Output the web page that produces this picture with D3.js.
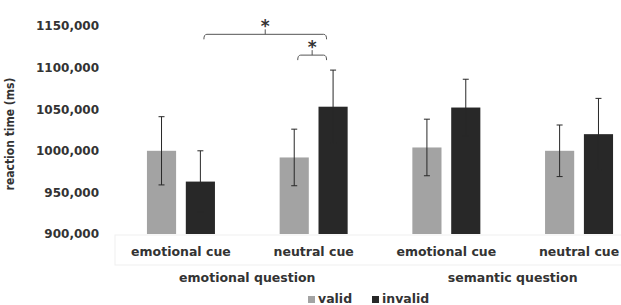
<!DOCTYPE html>
<html lang="en">
<title>Reaction time by cue and question</title>
<meta charset="UTF-8">
<script src="https://d3js.org/d3.v7.min.js"></script>
<style>
html, body { margin: 0; padding: 0; background: #fff; }
text { font-family: "DejaVu Sans", sans-serif; font-weight: bold; fill: #333; }
</style>
<body>
<div id="my_dataviz"></div>
<script>
// data (reaction time in ms, shown as "1000,000")
var questions = ["emotional question", "semantic question"];
var cues = ["emotional cue", "neutral cue"];
var series = ["valid", "invalid"];
var validMeans   = [1000, 992, 1004, 1000];
var invalidMeans = [963, 1053, 1052, 1020];
var validErr     = [41, 34, 34, 31];
var invalidErr   = [37, 44, 34, 43];
var yTicks = [900, 950, 1000, 1050, 1100, 1150];
var colors = ["#a3a3a3", "#282828"];

// significance brackets: between category index / series, at level (ms)
var brackets = [
  {from: [0, "invalid"], to: [1, "invalid"], level: 1140},
  {from: [1, "valid"],   to: [1, "invalid"], level: 1115}
];

var width = 621, height = 305;

var svg = d3.select("#my_dataviz")
  .append("svg")
  .attr("width", width)
  .attr("height", height);

// flat list of the four clusters
var groups = [];
questions.forEach(function(q) {
  cues.forEach(function(c) { groups.push(q + "|" + c); });
});

var bars = [];
groups.forEach(function(g, i) {
  bars.push({group: g, key: "valid", mean: validMeans[i], err: validErr[i]});
  bars.push({group: g, key: "invalid", mean: invalidMeans[i], err: invalidErr[i]});
});

// scales
var x0 = d3.scaleBand().domain(groups).range([114.6, 645.4]);
var x1 = d3.scaleBand().domain(series).range([0, 68]).paddingInner(0.25);
var y = d3.scaleLinear().domain([900, 1150]).range([234, 26]);
var color = d3.scaleOrdinal().domain(series).range(colors);

function barLeft(d) {
  return x0(d.group) + x0.bandwidth() / 2 - 34 + x1(d.key);
}
function barMid(gi, key) {
  return x0(groups[gi]) + x0.bandwidth() / 2 - 34 + x1(key) + x1.bandwidth() / 2;
}

// faint frame around the category labels
svg.append("rect")
  .attr("x", 115).attr("y", 235)
  .attr("width", 520).attr("height", 30)
  .attr("fill", "none")
  .attr("stroke", "#efefef");

// y axis, labels only
var yAxis = svg.append("g")
  .attr("transform", "translate(99,0)")
  .call(d3.axisLeft(y).tickValues(yTicks).tickSize(0).tickPadding(0)
    .tickFormat(function(d) { return d + ",000"; }));
yAxis.select(".domain").remove();
yAxis.selectAll("text")
  .style("font-family", "DejaVu Sans, sans-serif")
  .style("font-weight", "bold")
  .style("font-size", "12px")
  .attr("fill", "#333");

// y axis title
svg.append("text")
  .attr("transform", "translate(14,134) rotate(-90)")
  .style("text-anchor", "middle")
  .style("font-size", "12px")
  .style("font-family", "DejaVu Sans Condensed, sans-serif")
  .text("reaction time (ms)");

// bars
svg.selectAll("rect.bar")
  .data(bars)
  .enter()
  .append("rect")
  .attr("class", "bar")
  .attr("x", barLeft)
  .attr("y", function(d) { return y(d.mean); })
  .attr("width", x1.bandwidth())
  .attr("height", function(d) { return y(900) - y(d.mean); })
  .attr("fill", function(d) { return color(d.key); });

// error bars
var eb = svg.selectAll("g.err")
  .data(bars)
  .enter()
  .append("g")
  .attr("class", "err")
  .attr("stroke", "#282828")
  .attr("stroke-width", 1);
eb.append("line")
  .attr("x1", function(d) { return barLeft(d) + x1.bandwidth() / 2; })
  .attr("x2", function(d) { return barLeft(d) + x1.bandwidth() / 2; })
  .attr("y1", function(d) { return y(d.mean - d.err); })
  .attr("y2", function(d) { return y(d.mean + d.err); });
[1, -1].forEach(function(s) {
  eb.append("line")
    .attr("x1", function(d) { return barLeft(d) + x1.bandwidth() / 2 - 3; })
    .attr("x2", function(d) { return barLeft(d) + x1.bandwidth() / 2 + 3; })
    .attr("y1", function(d) { return y(d.mean + s * d.err); })
    .attr("y2", function(d) { return y(d.mean + s * d.err); });
});

// category labels
svg.selectAll("text.cue")
  .data(groups)
  .enter()
  .append("text")
  .attr("class", "cue")
  .attr("x", function(d) { return x0(d) + x0.bandwidth() / 2; })
  .attr("y", 256)
  .style("text-anchor", "middle")
  .style("font-size", "12.5px")
  .text(function(d) { return d.split("|")[1]; });

// question labels
svg.selectAll("text.question")
  .data(questions)
  .enter()
  .append("text")
  .attr("class", "question")
  .attr("x", function(q) {
    return (x0(q + "|" + cues[0]) + x0(q + "|" + cues[1]) + x0.bandwidth()) / 2;
  })
  .attr("y", 282)
  .style("text-anchor", "middle")
  .style("font-size", "12.5px")
  .text(function(d) { return d; });

// significance brackets
brackets.forEach(function(b) {
  var xa = barMid(b.from[0], b.from[1]) + 3.5;
  var xb = barMid(b.to[0], b.to[1]) - 6.5;
  var yl = y(b.level);
  var xm = (xa + xb) / 2;
  svg.append("path")
    .attr("d", "M" + xa + "," + (yl + 5) + "Q" + xa + "," + yl + " " + (xa + 3) + "," + yl +
      "H" + (xb - 3) + "Q" + xb + "," + yl + " " + xb + "," + (yl + 5) +
      "M" + xm + "," + yl + "V" + (yl - 5))
    .attr("fill", "none")
    .attr("stroke", "#555")
    .attr("stroke-width", 1);
  svg.append("text")
    .attr("x", xm)
    .attr("y", yl - 2)
    .style("text-anchor", "middle")
    .style("font-size", "17px")
    .attr("fill", "#222")
    .text("*");
});

// legend at the bottom edge
var legend = svg.selectAll("g.legend")
  .data(series)
  .enter()
  .append("g")
  .attr("class", "legend")
  .attr("transform", function(d, i) { return "translate(" + (308 + i * 64) + ",0)"; });
legend.append("rect")
  .attr("x", 0).attr("y", 296)
  .attr("width", 7).attr("height", 7)
  .attr("fill", function(d) { return color(d); });
legend.append("text")
  .attr("x", 10)
  .attr("y", 303)
  .style("font-size", "12.5px")
  .text(function(d) { return d; });
</script>
</body>
</html>
